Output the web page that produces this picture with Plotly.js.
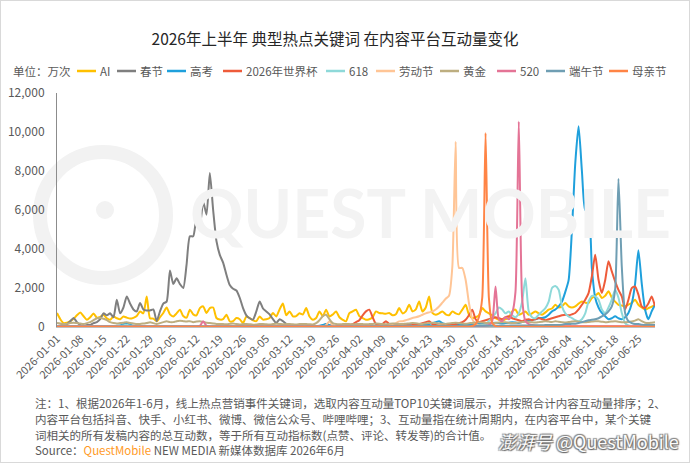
<!DOCTYPE html>
<html><head><meta charset="utf-8">
<script src="https://cdn.plot.ly/plotly-3.0.1.min.js"></script>
<style>
html,body{margin:0;padding:0;background:#fff;}
#wrap{position:relative;width:690px;height:463px;overflow:hidden;}
#chart{width:690px;height:463px;}
#border{position:absolute;left:0;top:0;width:688px;height:461px;border:1px solid #d9d9d9;pointer-events:none;}
</style></head>
<body><div id="wrap"><div id="chart"></div><div id="border"></div></div>
<script>
// ---- data (万次), one value per day from 2026-01-01 to 2026-06-30 ----
const seriesNames = ["AI","春节","高考","2026年世界杯","618","劳动节","黄金","520","端午节","母亲节"];
const seriesColors = ["#FFC000","#7F7F7F","#1FA0DC","#EE5B3A","#8ED9D9","#FFC596","#BDAE80","#E47496","#6F9EB3","#FF8445"];
const tickLabels = ["2026-01-01","2026-01-08","2026-01-15","2026-01-22","2026-01-29","2026-02-05","2026-02-12","2026-02-19","2026-02-26","2026-03-05","2026-03-12","2026-03-19","2026-03-26","2026-04-02","2026-04-09","2026-04-16","2026-04-23","2026-04-30","2026-05-07","2026-05-14","2026-05-21","2026-05-28","2026-06-04","2026-06-11","2026-06-18","2026-06-25"];

const ai = [
720,400,200,220,300,420,600,740,550,370,
500,690,480,520,630,450,370,540,450,400,
540,480,430,470,560,800,700,1570,450,430,
290,500,720,1000,650,540,700,890,560,480,
890,650,600,970,1060,720,970,1000,460,380,
400,630,290,300,460,400,200,540,450,340,
300,540,380,400,460,720,540,900,1200,600,
800,550,560,700,640,970,540,370,460,800,
550,890,540,640,800,500,370,290,710,800,
890,560,460,370,400,500,800,720,700,680,
720,600,650,970,700,800,1140,800,900,1310,
800,1000,1570,720,630,700,800,650,600,800,
700,650,890,1140,630,460,500,600,970,800,
700,600,450,370,330,400,480,800,890,630,
700,800,630,700,800,700,630,750,890,950,
1140,1000,1060,1230,1060,1000,1060,1200,1310,1250,
1230,1490,1600,1740,1490,1600,1830,1500,1300,1140,
1100,1060,1150,1230,1400,1140,1000,890,970,1050,1140];

const chunjie = [
50,80,100,150,300,460,250,100,60,100,
100,200,250,400,700,600,700,500,1400,700,
1000,1570,1200,900,800,1230,900,850,850,900,
300,800,1200,1300,2900,2200,2500,2200,2000,3200,
4650,4650,5550,5200,6440,5760,7900,6000,4400,3700,
3300,2680,2150,1960,1870,1500,970,600,450,380,
800,1310,950,800,650,400,200,400,300,160,
100,80,70,60,60,50,60,80,50,50,
60,150,80,60,50,40,40,50,40,40,
40,40,30,30,40,40,30,30,30,40,
40,30,30,30,40,30,30,30,30,30,
30,40,30,30,30,40,50,40,30,30,
30,30,30,30,30,30,30,30,30,30,
30,30,30,30,30,30,40,30,30,30,
30,30,30,30,30,30,30,30,30,30,
30,30,30,30,30,30,30,30,30,30,
30,30,30,30,30,30,30,30,30,30,
30,30,30,30,30,30,30,30,30,30,30];

const gaokao = [
30,30,40,40,30,30,40,40,30,30,
30,40,40,30,40,50,40,40,60,80,
150,200,120,60,40,40,30,30,40,40,
30,30,40,40,30,30,40,40,30,30,
40,40,30,30,40,40,30,30,40,40,
30,40,40,30,30,40,40,30,40,40,
40,30,40,40,30,30,40,40,50,40,
40,40,30,30,40,40,50,60,50,60,
100,150,100,60,50,40,40,50,40,40,
50,60,50,40,50,60,70,60,50,60,
60,70,80,70,60,80,100,80,70,90,
100,120,150,200,250,300,200,150,120,100,
100,120,150,130,120,130,150,160,150,170,
180,200,220,200,180,200,220,250,230,200,
250,300,350,350,400,450,460,500,630,800,
900,1060,1300,1800,2400,4990,8400,10290,8000,6000,
5900,3000,1500,1000,720,550,400,450,550,450,
400,500,720,1200,2200,3930,2250,900,400,800,1140];

const worldcup = [
30,30,40,30,30,40,30,30,40,30,
30,30,40,40,30,30,40,30,30,30,
40,30,30,40,30,30,40,30,30,30,
30,30,30,40,30,30,30,40,30,30,
30,30,30,30,30,30,30,30,30,30,
30,30,30,30,30,30,40,30,30,30,
30,30,40,30,30,30,30,30,30,40,
40,30,30,30,40,30,30,40,30,30,
40,50,40,30,40,40,50,60,100,150,
250,350,600,800,890,500,150,100,150,300,
150,100,80,80,100,90,80,100,120,150,
200,250,300,150,100,80,90,100,120,130,
150,200,250,370,600,890,400,250,300,350,
400,450,500,450,400,500,550,450,400,350,
300,370,400,350,400,460,400,350,400,450,
500,550,600,630,600,650,720,900,1140,1400,
1740,2600,3710,2420,1740,2400,3370,2850,2340,1900,
1570,890,1400,1990,2080,1660,1060,970,1200,1570,1060];

const s618 = [
20,20,30,20,20,30,20,20,30,20,
20,30,20,20,30,20,20,30,40,60,
80,100,60,30,20,20,30,20,20,30,
20,20,30,20,20,30,20,20,30,20,
20,30,20,20,30,20,20,30,20,20,
30,20,20,30,20,20,30,20,20,30,
20,20,30,20,20,30,20,20,30,20,
20,30,20,20,30,20,20,30,20,20,
30,60,30,20,30,20,20,30,20,20,
30,20,20,30,20,20,30,20,20,30,
20,20,30,20,20,30,20,20,30,20,
30,30,40,30,30,40,30,30,40,30,
30,40,30,30,40,50,60,80,100,150,
300,500,700,1000,900,700,800,600,500,700,
1300,2500,800,500,450,630,800,970,1300,2000,
2100,1910,1060,700,540,460,350,290,400,700,
1310,1600,1570,1400,900,720,1000,1400,1910,1500,
720,200,80,50,40,40,40,40,40,40,40];

const laodong = [
20,20,20,20,20,20,20,20,20,20,
20,20,20,20,20,20,20,20,20,20,
20,20,20,20,20,20,20,20,20,20,
20,20,20,20,20,20,20,20,20,20,
20,20,20,20,20,20,20,20,20,20,
20,20,20,20,20,20,20,20,20,20,
20,20,20,20,20,20,20,20,20,20,
20,20,20,20,20,20,30,30,30,30,
30,100,300,80,40,30,30,30,30,30,
30,30,40,40,40,50,50,60,70,80,
100,150,200,290,300,350,400,460,500,550,
630,700,750,800,900,1050,1250,1450,1600,3100,
9500,3030,3030,2420,1230,400,150,80,60,50,
40,40,40,40,40,40,40,40,40,40,
40,40,40,40,40,40,40,40,40,40,
40,40,40,40,40,40,40,40,40,40,
40,40,40,40,40,40,40,40,40,40,
40,40,40,40,40,40,40,40,40,40,40];

const huangjin = [
200,180,150,160,200,220,200,180,150,200,
250,350,450,480,420,350,250,200,180,200,
220,250,200,180,150,160,180,200,250,200,
150,200,250,300,250,250,300,320,300,280,
300,250,280,300,260,220,200,180,160,150,
150,140,160,180,150,130,150,160,140,120,
130,150,160,140,130,150,170,160,140,150,
160,140,130,150,160,150,140,130,200,350,
550,630,400,200,150,140,150,160,150,140,
150,160,150,140,150,160,180,170,150,140,
160,180,170,160,150,170,180,200,190,170,
160,180,200,220,200,180,170,160,180,200,
220,200,180,170,190,210,230,250,230,210,
200,190,210,230,250,240,220,200,210,230,
250,270,260,240,230,250,270,300,280,260,
290,270,250,230,260,280,300,270,250,240,
260,280,300,290,270,250,260,280,300,270,
250,240,260,280,330,400,300,220,200,220,240];

const s520 = [
20,20,30,20,20,30,20,20,30,20,
20,30,20,20,30,20,20,30,20,20,
30,20,20,30,20,20,30,20,20,30,
20,20,30,20,20,30,20,20,30,20,
20,30,20,60,290,60,30,20,20,30,
20,20,30,20,20,30,20,20,30,20,
20,30,20,20,30,20,20,30,20,20,
30,20,20,30,20,20,30,20,20,30,
20,20,30,20,20,30,20,20,30,20,
20,30,20,20,30,20,20,30,20,20,
30,20,20,30,20,20,30,20,20,30,
20,20,30,20,20,30,20,20,30,20,
30,30,40,30,30,40,40,50,50,60,
100,300,2080,400,300,500,400,700,1800,10540,
1500,300,150,100,60,50,50,40,40,40,
40,40,40,40,40,40,40,40,40,40,
40,40,40,40,40,40,40,40,40,40,
40,40,40,40,40,40,40,40,40,40,40];

const duanwu = [
30,30,30,30,30,30,30,30,30,30,
30,30,30,30,30,30,30,30,30,30,
30,30,30,30,30,30,30,30,30,30,
30,30,30,30,30,30,30,30,30,30,
30,30,30,30,30,30,30,30,30,30,
30,30,30,30,30,30,30,30,30,30,
30,30,30,30,30,30,30,30,30,30,
30,30,30,30,30,30,30,30,30,30,
30,40,30,30,30,30,30,30,30,30,
30,30,30,30,30,40,40,40,40,40,
40,40,40,40,40,40,40,40,40,40,
40,50,50,50,50,50,50,50,50,50,
50,50,50,50,60,60,60,60,60,60,
60,60,60,70,70,70,70,80,80,80,
80,80,80,90,90,90,90,100,100,100,
100,100,120,150,150,170,170,200,250,300,
350,370,400,450,540,650,800,1060,1910,7600,
3100,720,300,200,150,150,120,100,100,100,100];

const muqin = [
10,10,10,10,10,10,10,10,10,10,
10,10,10,10,10,10,10,10,10,10,
10,10,10,10,10,10,10,10,10,10,
10,10,10,10,10,10,10,10,10,10,
10,10,10,10,10,10,10,10,10,10,
10,10,10,10,10,10,10,10,10,10,
10,10,10,10,10,10,10,10,10,10,
10,10,10,10,10,10,10,10,10,10,
10,10,10,10,10,10,10,10,10,10,
10,10,10,10,10,10,10,10,10,10,
10,10,10,10,10,10,10,10,10,10,
10,10,10,10,10,10,10,10,10,10,
10,10,10,10,10,50,150,500,1500,9950,
1500,200,50,10,10,10,10,10,10,10,
10,10,10,10,10,10,10,10,10,10,
10,10,10,10,10,10,10,10,10,10,
10,10,10,10,10,10,10,10,10,10,
10,10,10,10,10,10,10,10,10,10,10];

const seriesValues = [ai, chunjie, gaokao, worldcup, s618, laodong, huangjin, s520, duanwu, muqin];

// daily date categories
const dates = [];
{
  const start = Date.UTC(2026,0,1);
  for (let i = 0; i < ai.length; i++) {
    dates.push(new Date(start + i*86400000).toISOString().slice(0,10));
  }
}

// ---- layout helpers (pixel -> paper) ----
const ML = 57, MR = 35, MT = 93, MB = 136, W = 690, H = 463;
const PW = W - ML - MR, PH = H - MT - MB;
const px = p => (p - ML) / PW;
const py = p => (H - MB - p) / PH;

const FONT = '"Noto Sans CJK SC", "Noto Sans", sans-serif';

const traces = seriesNames.map((n, i) => ({
  type: 'scatter', mode: 'lines', name: n,
  x: dates, y: seriesValues[i],
  line: {color: seriesColors[i], width: 2, shape: 'spline', smoothing: 0.6},
  hoverinfo: 'x+y+name'
}));

// legend drawn manually
const legendPos = [[77,98],[117,138],[167,188],[223,244],[326,347],[376,397],[440,461],[497,518],[546,567],[609,630]];
const shapes = [];
const annotations = [];
legendPos.forEach((p, i) => {
  shapes.push({type:'line', xref:'paper', yref:'paper', x0:px(p[0]), x1:px(p[0]+19), y0:py(71), y1:py(71),
    line:{color:seriesColors[i], width:2.5}});
  annotations.push({xref:'paper', yref:'paper', x:px(p[1]), y:py(71), xanchor:'left', yanchor:'middle',
    text:seriesNames[i], showarrow:false, font:{family:FONT, size:11.5, color:'#595959'}});
});
annotations.push({xref:'paper', yref:'paper', x:px(11), y:py(71), xanchor:'left', yanchor:'middle',
  text:'单位：万次', showarrow:false, font:{family:FONT, size:11.5, color:'#595959'}});

// watermark
shapes.push({type:'circle', xref:'paper', yref:'paper', layer:'below',
  x0:px(40), x1:px(166), y0:py(152), y1:py(278), line:{color:'#f2f2f2', width:14}});
shapes.push({type:'circle', xref:'paper', yref:'paper', layer:'below',
  x0:px(96), x1:px(114), y0:py(201), y1:py(219), fillcolor:'#f2f2f2', line:{width:0}});
annotations.push({xref:'paper', yref:'paper', x:px(430), y:py(212), xanchor:'center', yanchor:'middle',
  text:'QUEST MOBILE', showarrow:false, font:{family:'Lato, sans-serif', size:66, color:'#f3f3f3', weight:700}});

// notes
const notes = [
  '注：1、根据2026年1-6月，线上热点营销事件关键词，选取内容互动量TOP10关键词展示，并按照合计内容互动量排序；2、',
  '内容平台包括抖音、快手、小红书、微博、微信公众号、哔哩哔哩；3、互动量指在统计周期内，在内容平台中，某个关键',
  '词相关的所有发稿内容的总互动数，等于所有互动指标数(点赞、评论、转发等)的合计值。',
  'Source：<span style="color:#FF9A1F">QuestMobile</span> NEW MEDIA 新媒体数据库 2026年6月'
];
const noteY = [403, 419, 435, 450];
notes.forEach((t, i) => {
  annotations.push({xref:'paper', yref:'paper', x:px(33), y:py(noteY[i]), xanchor:'left', yanchor:'middle',
    text:t, showarrow:false, font:{family:FONT, size:11.5, color:'#595959'}});
});
annotations.push({xref:'paper', yref:'paper', x:px(681), y:py(441), xanchor:'right', yanchor:'middle',
  text:'<i>澎湃号</i> @QuestMobile', showarrow:false,
  font:{family:FONT, size:18, color:'#fbfbfb', shadow:'1px 1px 1px #666, -1px -1px 1px #888, 1px -1px 1px #888, -1px 1px 1px #888'}});

const layout = {
  width: W, height: H,
  margin: {l: ML, r: MR, t: MT, b: MB, pad: 0},
  paper_bgcolor: '#fff', plot_bgcolor: 'rgba(0,0,0,0)',
  showlegend: false,
  font: {family: FONT, color: '#595959'},
  title: {text: '2026年上半年 典型热点关键词 在内容平台互动量变化', x: 335/W, xanchor: 'center',
    y: 1 - 40/H, yanchor: 'middle', yref: 'container', font: {family: FONT, size: 15.5, color: '#262626'}},
  xaxis: {
    type: 'date', range: ['2026-01-01', '2026-06-30'], tickmode: 'array',
    tickvals: tickLabels, ticktext: tickLabels, tickangle: -45,
    tickfont: {family: FONT, size: 11, color: '#595959'},
    showgrid: false, zeroline: false, showline: true, linecolor: '#bfbfbf', linewidth: 1,
    ticks: '', automargin: false, fixedrange: true
  },
  yaxis: {
    range: [0, 12000], dtick: 2000, tickformat: ',d',
    tickfont: {family: FONT, size: 12, color: '#595959'},
    showgrid: false, zeroline: false, showline: true, linecolor: '#8c8c8c', linewidth: 1,
    ticks: '', ticklabelstandoff: 9, automargin: false, fixedrange: true
  },
  shapes: shapes,
  annotations: annotations
};

Plotly.newPlot('chart', traces, layout, {displayModeBar: false, staticPlot: true});
</script>
</body></html>
